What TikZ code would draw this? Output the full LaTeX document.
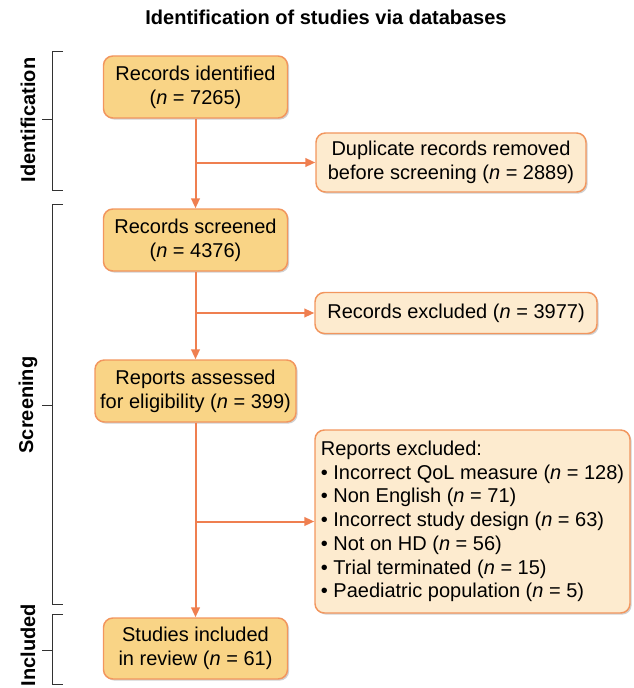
\documentclass[tikz,border=0pt]{standalone}
\usepackage{fontspec}
\setmainfont{Liberation Sans}
\usetikzlibrary{arrows.meta,shadows}

\definecolor{boxorange}{RGB}{249,212,134}
\definecolor{paleorange}{RGB}{253,235,207}
\definecolor{edgeorange}{RGB}{242,150,94}
\definecolor{arroworange}{RGB}{239,127,80}
\definecolor{bracketgray}{RGB}{50,50,50}

\newcommand{\nsize}{\textit{n}}

\tikzset{
  darkbox/.style={draw=edgeorange, fill=boxorange, line width=1.1pt, rounded corners=7pt,
    align=center, inner sep=0pt, font=\fontsize{15}{18}\selectfont,
    drop shadow={shadow xshift=1.2pt, shadow yshift=-1.2pt, fill=black, opacity=0.18}},
  palebox/.style={darkbox, fill=paleorange},
  flowarrow/.style={draw=arroworange, line width=1.5pt, -{Triangle[length=7.5pt,width=6.5pt]}},
  sidebracket/.style={draw=bracketgray, line width=0.75pt},
  sidelabel/.style={rotate=90, font=\fontsize{15}{18}\selectfont\bfseries}
}

\begin{document}
\begin{tikzpicture}[x=0.75pt,y=0.75pt,yscale=-1,xscale=1]
\path[use as bounding box] (0,0) rectangle (634,688);

% Title
\node[font=\fontsize{15}{18}\selectfont\bfseries] (title) at (326,17) {Identification of studies via databases};

% Main column
\node[darkbox, minimum width=138pt, minimum height=46.5pt] (ident) at (195.5,87) {Records identified\\(\nsize{} = 7265)};
\node[darkbox, minimum width=138pt, minimum height=46.5pt] (screen) at (195.5,240) {Records screened\\(\nsize{} = 4376)};
\node[darkbox, minimum width=150.75pt, minimum height=46.5pt] (assess) at (195.5,391) {Reports assessed\\for eligibility (\nsize{} = 399)};
\node[darkbox, minimum width=138pt, minimum height=45.75pt] (incl) at (195.5,648.5) {Studies included\\in review (\nsize{} = 61)};

% Side column
\node[palebox, minimum width=202.5pt, minimum height=44.25pt] (dup) at (451,162.5) {Duplicate records removed\\before screening (\nsize{} = 2889)};
\node[palebox, minimum width=211.5pt, minimum height=30.75pt] (excl) at (456,313) {Records excluded (\nsize{} = 3977)};
\node[palebox, minimum width=236.25pt, minimum height=137.25pt, align=left, font=\fontsize{15}{17.8}\selectfont] (repexcl) at (472.5,521.5) {Reports excluded:\\
\textbullet{} Incorrect QoL measure (\nsize{} = 128)\\
\textbullet{} Non English (\nsize{} = 71)\\
\textbullet{} Incorrect study design (\nsize{} = 63)\\
\textbullet{} Not on HD (\nsize{} = 56)\\
\textbullet{} Trial terminated (\nsize{} = 15)\\
\textbullet{} Paediatric population (\nsize{} = 5)};

% Arrows
\draw[flowarrow] (ident) -- (screen);
\draw[flowarrow] (screen) -- (assess);
\draw[flowarrow] (assess) -- (incl);
\draw[flowarrow] (ident.south |- dup.west) -- (dup.west);
\draw[flowarrow] (screen.south |- excl.west) -- (excl.west);
\draw[flowarrow] (assess.south |- repexcl.west) -- (repexcl.west);

% Brackets
\draw[sidebracket] (63,52) -- (52,52) -- (52,190) -- (63,190);
\draw[sidebracket] (52,120) -- (42,120);
\draw[sidebracket] (63,204) -- (52,204) -- (52,604) -- (63,604);
\draw[sidebracket] (52,405) -- (42,405);
\draw[sidebracket] (63,614) -- (52,614) -- (52,684) -- (63,684);
\draw[sidebracket] (52,650) -- (42,650);

% Text Node
\node[sidelabel] (identlabel) at (28,120) {Identification};
\node[sidelabel] (screenlabel) at (28,405) {Screening};
\node[sidelabel] (incllabel) at (28,645) {Included};

\end{tikzpicture}
\end{document}
